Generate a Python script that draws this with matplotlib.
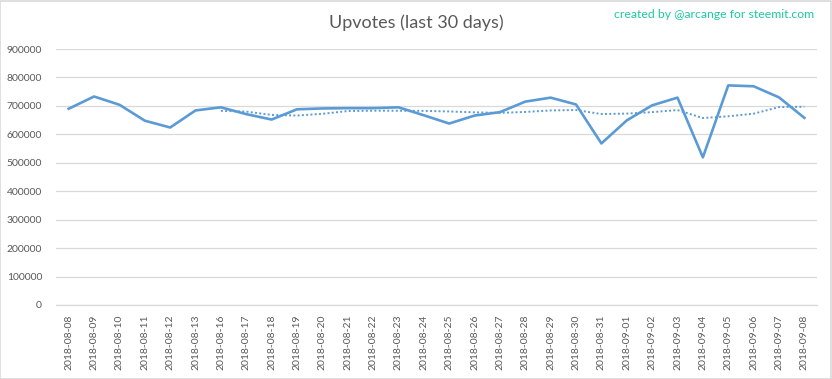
import matplotlib
matplotlib.use("Agg")
import matplotlib.pyplot as plt
import pandas as pd
from matplotlib.patches import Rectangle

dates = ["2018-08-08", "2018-08-09", "2018-08-10", "2018-08-11", "2018-08-12", "2018-08-13",
         "2018-08-16", "2018-08-17", "2018-08-18", "2018-08-19", "2018-08-20", "2018-08-21",
         "2018-08-22", "2018-08-23", "2018-08-24", "2018-08-25", "2018-08-26", "2018-08-27",
         "2018-08-28", "2018-08-29", "2018-08-30", "2018-08-31", "2018-09-01", "2018-09-02",
         "2018-09-03", "2018-09-04", "2018-09-05", "2018-09-06", "2018-09-07", "2018-09-08"]
upvotes = [690000, 733000, 704000, 648000, 624000, 684000,
           695000, 671000, 652000, 688000, 691000, 692000,
           692000, 695000, 667000, 638000, 666000, 678000,
           715000, 729000, 705000, 568000, 649000, 702000,
           729000, 519000, 772000, 769000, 730000, 658000]
ma_period = 7
yticks = [0, 100000, 200000, 300000, 400000, 500000, 600000, 700000, 800000, 900000]

moving_avg = pd.Series(upvotes).rolling(ma_period).mean()

plt.rcParams['font.family'] = ['Lato', 'DejaVu Sans']

fig = plt.figure(figsize=(8.32, 3.79), dpi=100)
fig.patch.set_facecolor('white')
fig.patches.append(Rectangle((0.0006, 0.0013), 0.9976, 0.9960, transform=fig.transFigure,
                             fill=False, edgecolor='#d9d9d9', linewidth=1.2))

ax = fig.add_axes([0.0673, 0.1953, 0.9147, 0.6754])
x = list(range(len(dates)))
ax.plot(x, upvotes, color='#5b9bd5', linewidth=1.9, solid_joinstyle='round', zorder=3)
ax.plot(x, moving_avg, color='#5b9bd5', linewidth=1.4, linestyle=(0, (1, 1.2)),
        dash_capstyle='butt', zorder=3)

ax.set_xlim(-0.5, len(dates) - 0.5)
ax.set_ylim(0, 900000)
ax.set_yticks(yticks)
ax.set_yticklabels([str(v) for v in yticks])
ax.set_xticks(x)
ax.set_xticklabels(dates, rotation=90)
ax.grid(axis='y', color='#d9d9d9', linewidth=0.9, zorder=0)
for s in ['top', 'right', 'left']:
    ax.spines[s].set_visible(False)
ax.spines['bottom'].set_color('#d9d9d9')
ax.spines['bottom'].set_linewidth(0.9)
ax.tick_params(axis='both', length=0, colors='#595959', labelsize=7.5)
ax.tick_params(axis='y', pad=10)
ax.tick_params(axis='x', pad=7)

fig.text(0.5, 0.94, "Upvotes (last 30 days)", ha='center', va='center',
         fontsize=13, color='#595959', fontweight='normal')
fig.text(0.978, 0.962, "created by @arcange for steemit.com", ha='right', va='center',
         fontsize=8.8, color='#1dc9a0')

fig.savefig("out.png", dpi=100, facecolor='white')
